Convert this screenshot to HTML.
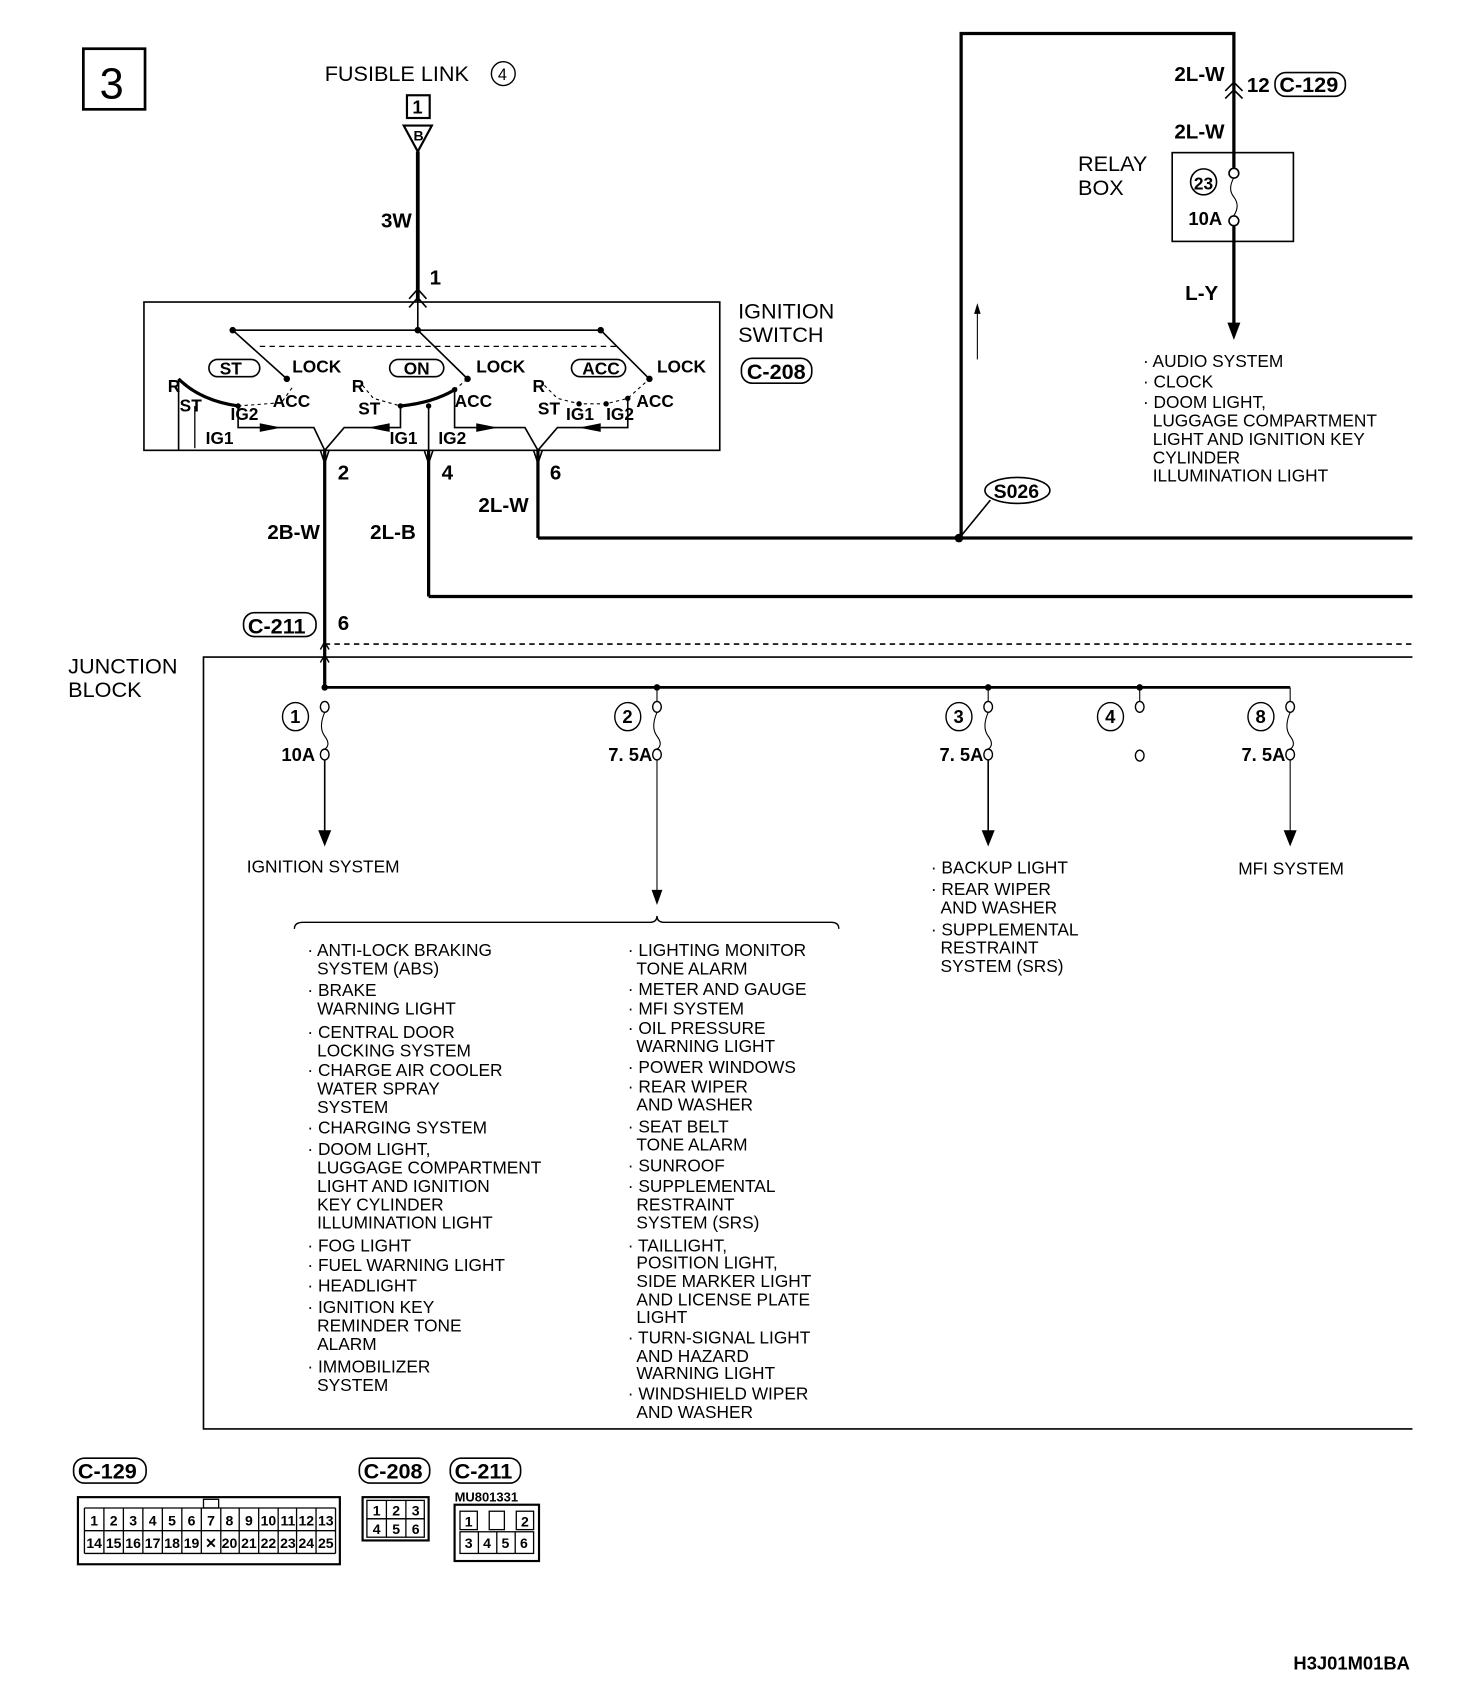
<!DOCTYPE html>
<html><head><meta charset="utf-8"><style>
html,body{margin:0;padding:0;background:#fff;}
svg{display:block;}
text{font-family:"Liberation Sans",sans-serif;fill:#000;}
.n{font-family:"Liberation Sans Narrow","Liberation Sans",sans-serif;font-weight:bold;font-size:19px;}
.t{font-size:16px;}
.h{font-size:20px;}
</style></head><body>
<svg width="1472" height="1692" viewBox="0 0 1360 1563" preserveAspectRatio="none" xmlns="http://www.w3.org/2000/svg">
<g fill="none" stroke="#000">
<rect x="77" y="45" width="57" height="56" stroke-width="2.5"/>
<rect x="376" y="88" width="21" height="21" stroke-width="2"/>
<path d="M373 116 L399 116 L386 140 Z" stroke-width="2"/>
<line x1="386" y1="140" x2="386" y2="278" stroke-width="3.5"/>
<path d="M378 276 L386 267 L394 276 M378 284 L386 275 L394 284" stroke-width="1.5"/>
<rect x="133" y="279" width="532" height="137" stroke-width="1.5"/>
<line x1="386" y1="278" x2="386" y2="305" stroke-width="1.5"/>
<line x1="215" y1="305" x2="555" y2="305" stroke-width="1.5"/>
<line x1="240" y1="320" x2="572" y2="320" stroke-width="1.2" stroke-dasharray="5,4"/>
<line x1="215" y1="305" x2="265" y2="350" stroke-width="1.5"/>
<line x1="386" y1="305" x2="432" y2="350" stroke-width="1.5"/>
<line x1="555" y1="305" x2="600" y2="350" stroke-width="1.5"/>
<rect x="193" y="332" width="47" height="16" rx="8" stroke-width="1.5"/>
<rect x="360" y="332" width="50" height="16" rx="8" stroke-width="1.5"/>
<rect x="528" y="332" width="50" height="16" rx="8" stroke-width="1.5"/>
<path d="M165 350 Q185 370 220 375" stroke-width="3"/>
<path d="M220 375 L260 372 L270 358" stroke-width="1" stroke-dasharray="3,3"/>
<path d="M335 356 L345 368 L370 375" stroke-width="1" stroke-dasharray="3,3"/>
<path d="M370 375 Q400 372 420 360" stroke-width="3"/>
<path d="M420 360 L432 350" stroke-width="1" stroke-dasharray="3,3"/>
<path d="M503 356 L515 368 L535 373 L560 373 L580 368 L600 350" stroke-width="1" stroke-dasharray="3,3"/>
<line x1="165" y1="350" x2="165" y2="416" stroke-width="1.5"/>
<line x1="180" y1="375" x2="180" y2="414" stroke-width="1.2"/>
<path d="M220 375 L220 395 L290 395 L300 416 M370 375 L370 395 L318 395 L300 416" stroke-width="1.5"/>
<path d="M420 360 L420 395 L485 395 L497 416 M580 368 L580 395 L515 395 L497 416" stroke-width="1.5"/>
<line x1="396" y1="375" x2="396" y2="416" stroke-width="1.5"/>
<path d="M296 416 L300 428 L304 416 M392 416 L396 428 L400 416 M493 416 L497 428 L501 416" stroke-width="1.5"/>
<line x1="300" y1="416" x2="300" y2="635" stroke-width="3"/>
<line x1="396" y1="416" x2="396" y2="551" stroke-width="3"/>
<line x1="396" y1="551" x2="1305" y2="551" stroke-width="3"/>
<line x1="497" y1="416" x2="497" y2="497" stroke-width="3"/>
<line x1="497" y1="497" x2="1305" y2="497" stroke-width="3"/>
<path d="M888 497 L888 31 L1140 31 L1140 155" stroke-width="3"/>
<line x1="1140" y1="209" x2="1140" y2="300" stroke-width="3"/>
<path d="M1132 84 L1140 76 L1148 84 M1132 91 L1140 83 L1148 91" stroke-width="1.5"/>
<line x1="903" y1="282" x2="903" y2="332" stroke-width="1"/>
<rect x="1083" y="141" width="112" height="82" stroke-width="1.5"/>
<circle cx="1112" cy="168" r="12" stroke-width="1.5"/>
<path d="M1140 164 Q1134 175 1140 182 Q1146 190 1140 199" stroke-width="1"/>
<circle cx="1140" cy="160" r="4.5" fill="#fff" stroke-width="1.5"/>
<circle cx="1140" cy="204" r="4.5" fill="#fff" stroke-width="1.5"/>
<rect x="1178" y="67" width="65" height="22" rx="10" stroke-width="1.5"/>
<ellipse cx="940" cy="453" rx="30" ry="12" stroke-width="1.5"/>
<line x1="915" y1="462" x2="888" y2="495" stroke-width="1.5"/>
<rect x="225" y="566" width="67" height="22" rx="10" stroke-width="1.5"/>
<line x1="300" y1="595" x2="1305" y2="595" stroke-width="1.5" stroke-dasharray="5,4"/>
<path d="M296 600 L300 593 L304 600 M296 612 L300 605 L304 612" stroke-width="1.3"/>
<path d="M1305 607 L188 607 L188 1320 L1305 1320" stroke-width="1.5"/>
<line x1="300" y1="635" x2="1192" y2="635" stroke-width="2.5"/>
<line x1="1192" y1="635" x2="1192" y2="648" stroke-width="1"/>
<line x1="607" y1="635" x2="607" y2="648" stroke-width="1"/>
<line x1="913" y1="635" x2="913" y2="648" stroke-width="1"/>
<line x1="1053" y1="635" x2="1053" y2="648" stroke-width="1"/>
<g stroke-width="1">
<path d="M300 658 Q294 672 300 680 Q306 688 300 692"/>
<path d="M607 658 Q601 672 607 680 Q613 688 607 692"/>
<path d="M913 658 Q907 672 913 680 Q919 688 913 692"/>
<path d="M1192 658 Q1186 672 1192 680 Q1198 688 1192 692"/>
</g>
<g stroke-width="1.3">
<ellipse cx="300" cy="653" rx="4" ry="5"/><ellipse cx="300" cy="697" rx="4" ry="5"/>
<ellipse cx="607" cy="653" rx="4" ry="5"/><ellipse cx="607" cy="697" rx="4" ry="5"/>
<ellipse cx="913" cy="653" rx="4" ry="5"/><ellipse cx="913" cy="697" rx="4" ry="5"/>
<ellipse cx="1053" cy="653" rx="4" ry="5"/><ellipse cx="1053" cy="698" rx="4" ry="5"/>
<ellipse cx="1192" cy="653" rx="4" ry="5"/><ellipse cx="1192" cy="697" rx="4" ry="5"/>
<ellipse cx="273" cy="662" rx="12" ry="13"/><ellipse cx="580" cy="662" rx="12" ry="13"/>
<ellipse cx="886" cy="662" rx="12" ry="13"/><ellipse cx="1026" cy="662" rx="12" ry="13"/>
<ellipse cx="1165" cy="662" rx="12" ry="13"/>
</g>
<line x1="300" y1="702" x2="300" y2="770" stroke-width="1.5"/>
<line x1="607" y1="702" x2="607" y2="825" stroke-width="1"/>
<line x1="913" y1="702" x2="913" y2="770" stroke-width="1.5"/>
<line x1="1192" y1="702" x2="1192" y2="770" stroke-width="1"/>
<path d="M272 858 Q272 852 280 852 L600 852 Q607 852 607 846 Q607 852 614 852 L768 852 Q775 852 775 858" stroke-width="1.3"/>
<rect x="68" y="1347" width="67" height="23" rx="10" stroke-width="1.5"/>
<rect x="332" y="1347" width="65" height="23" rx="10" stroke-width="1.5"/>
<rect x="416" y="1347" width="65" height="23" rx="10" stroke-width="1.5"/>
<rect x="72" y="1383" width="242" height="62" stroke-width="2"/>
<rect x="335" y="1383" width="61" height="40" stroke-width="2"/>
<rect x="420" y="1390" width="78" height="52" stroke-width="2"/>
</g>
<g fill="#000">
<circle cx="215" cy="305" r="3"/><circle cx="386" cy="305" r="3"/><circle cx="555" cy="305" r="3"/>
<circle cx="265" cy="350" r="3"/><circle cx="432" cy="350" r="3"/><circle cx="600" cy="350" r="3"/>
<circle cx="220" cy="375" r="2.5"/><circle cx="370" cy="375" r="2.5"/><circle cx="396" cy="375" r="2.5"/>
<circle cx="420" cy="360" r="2.5"/><circle cx="580" cy="368" r="2.5"/><circle cx="535" cy="373" r="2.5"/><circle cx="560" cy="373" r="2.5"/>
<circle cx="886" cy="497" r="4"/>
<circle cx="300" cy="635" r="3"/><circle cx="607" cy="635" r="3"/><circle cx="913" cy="635" r="3"/><circle cx="1053" cy="635" r="3"/>
<path d="M240 391 L260 395 L240 399 Z"/><path d="M360 391 L340 395 L360 399 Z"/>
<path d="M440 391 L460 395 L440 399 Z"/><path d="M555 391 L535 395 L555 399 Z"/>
<path d="M1134 298 L1146 298 L1140 314 Z"/>
<path d="M294 767 L306 767 L300 782 Z"/>
<path d="M602 822 L612 822 L607 836 Z"/>
<path d="M907 767 L919 767 L913 782 Z"/>
<path d="M1186 767 L1198 767 L1192 782 Z"/>
<path d="M900 290 L903 280 L906 290 Z"/>
</g>
<text x="92" y="91" style="font-size:40px">3</text>
<text x="300" y="75" class="h">FUSIBLE LINK</text>
<circle cx="465" cy="68" r="11" fill="none" stroke="#000" stroke-width="1.3"/>
<text x="460" y="74" style="font-size:15px">4</text>
<text x="381" y="105" class="n" style="font-size:17px">1</text>
<text x="382" y="130" class="n" style="font-size:13px">B</text>
<text x="352" y="210" class="n">3W</text>
<text x="397" y="263" class="n">1</text>
<text x="682" y="294" class="h">IGNITION</text>
<text x="682" y="316" class="h">SWITCH</text>
<rect x="685" y="331" width="65" height="23" rx="10" fill="none" stroke="#000" stroke-width="1.5"/>
<text x="690" y="350" class="n" style="font-size:20px">C-208</text>
<g class="n" style="font-size:16px">
<text x="203" y="346">ST</text><text x="373" y="346">ON</text><text x="538" y="346">ACC</text>
<text x="270" y="344">LOCK</text><text x="440" y="344">LOCK</text><text x="607" y="344">LOCK</text>
<text x="155" y="362">R</text><text x="166" y="380">ST</text><text x="213" y="388">IG2</text><text x="252" y="376">ACC</text><text x="190" y="410">IG1</text>
<text x="325" y="362">R</text><text x="331" y="383">ST</text><text x="420" y="376">ACC</text><text x="360" y="410">IG1</text><text x="405" y="410">IG2</text>
<text x="492" y="362">R</text><text x="497" y="383">ST</text><text x="523" y="388">IG1</text><text x="560" y="388">IG2</text><text x="588" y="376">ACC</text>
</g>
<text x="312" y="443" class="n">2</text><text x="408" y="443" class="n">4</text><text x="508" y="443" class="n">6</text>
<text x="442" y="473" class="n">2L-W</text>
<text x="247" y="498" class="n">2B-W</text><text x="342" y="498" class="n">2L-B</text>
<text x="229" y="585" class="n" style="font-size:20px">C-211</text>
<text x="312" y="582" class="n">6</text>
<text x="63" y="622" class="h">JUNCTION</text><text x="63" y="644" class="h">BLOCK</text>
<text x="1085" y="75" class="n">2L-W</text>
<text x="1152" y="85" class="n">12</text>
<text x="1182" y="85" class="n" style="font-size:20px">C-129</text>
<text x="1085" y="128" class="n">2L-W</text>
<text x="996" y="158" class="h">RELAY</text><text x="996" y="180" class="h">BOX</text>
<text x="1103" y="175" class="n" style="font-size:16px">23</text>
<text x="1098" y="208" class="n" style="font-size:17px">10A</text>
<text x="1095" y="277" class="n">L-Y</text>
<g class="t">
<text x="1056" y="339">· AUDIO SYSTEM</text>
<text x="1056" y="358">· CLOCK</text>
<text x="1056" y="377">· DOOM LIGHT,</text>
<text x="1065" y="394">LUGGAGE COMPARTMENT</text>
<text x="1065" y="411">LIGHT AND IGNITION KEY</text>
<text x="1065" y="428">CYLINDER</text>
<text x="1065" y="445">ILLUMINATION LIGHT</text>
</g>
<text x="918" y="460" class="n" style="font-size:18px">S026</text>
<g class="n" style="font-size:17px">
<text x="268" y="668">1</text><text x="575" y="668">2</text><text x="881" y="668">3</text><text x="1021" y="668">4</text><text x="1160" y="668">8</text>
<text x="260" y="703">10A</text><text x="562" y="703">7. 5A</text><text x="868" y="703">7. 5A</text><text x="1147" y="703">7. 5A</text>
</g>
<g class="t">
<text x="228" y="806">IGNITION SYSTEM</text>
<text x="1144" y="808">MFI SYSTEM</text>
<text x="860" y="807">· BACKUP LIGHT</text>
<text x="860" y="827">· REAR WIPER</text><text x="869" y="844">AND WASHER</text>
<text x="860" y="864">· SUPPLEMENTAL</text><text x="869" y="881">RESTRAINT</text><text x="869" y="898">SYSTEM (SRS)</text>
<text x="284" y="883">· ANTI-LOCK BRAKING</text><text x="293" y="900">SYSTEM (ABS)</text>
<text x="284" y="920">· BRAKE</text><text x="293" y="937">WARNING LIGHT</text>
<text x="284" y="959">· CENTRAL DOOR</text><text x="293" y="976">LOCKING SYSTEM</text>
<text x="284" y="994">· CHARGE AIR COOLER</text><text x="293" y="1011">WATER SPRAY</text><text x="293" y="1028">SYSTEM</text>
<text x="284" y="1047">· CHARGING SYSTEM</text>
<text x="284" y="1067">· DOOM LIGHT,</text><text x="293" y="1084">LUGGAGE COMPARTMENT</text><text x="293" y="1101">LIGHT AND IGNITION</text><text x="293" y="1118">KEY CYLINDER</text><text x="293" y="1135">ILLUMINATION LIGHT</text>
<text x="284" y="1156">· FOG LIGHT</text>
<text x="284" y="1174">· FUEL WARNING LIGHT</text>
<text x="284" y="1193">· HEADLIGHT</text>
<text x="284" y="1213">· IGNITION KEY</text><text x="293" y="1230">REMINDER TONE</text><text x="293" y="1247">ALARM</text>
<text x="284" y="1268">· IMMOBILIZER</text><text x="293" y="1285">SYSTEM</text>
<text x="580" y="883">· LIGHTING MONITOR</text><text x="588" y="900">TONE ALARM</text>
<text x="580" y="919">· METER AND GAUGE</text>
<text x="580" y="937">· MFI SYSTEM</text>
<text x="580" y="955">· OIL PRESSURE</text><text x="588" y="972">WARNING LIGHT</text>
<text x="580" y="991">· POWER WINDOWS</text>
<text x="580" y="1009">· REAR WIPER</text><text x="588" y="1026">AND WASHER</text>
<text x="580" y="1046">· SEAT BELT</text><text x="588" y="1063">TONE ALARM</text>
<text x="580" y="1082">· SUNROOF</text>
<text x="580" y="1101">· SUPPLEMENTAL</text><text x="588" y="1118">RESTRAINT</text><text x="588" y="1135">SYSTEM (SRS)</text>
<text x="580" y="1156">· TAILLIGHT,</text><text x="588" y="1172">POSITION LIGHT,</text><text x="588" y="1189">SIDE MARKER LIGHT</text><text x="588" y="1206">AND LICENSE PLATE</text><text x="588" y="1222">LIGHT</text>
<text x="580" y="1241">· TURN-SIGNAL LIGHT</text><text x="588" y="1258">AND HAZARD</text><text x="588" y="1274">WARNING LIGHT</text>
<text x="580" y="1293">· WINDSHIELD WIPER</text><text x="588" y="1310">AND WASHER</text>
</g>
<g class="n" style="font-size:20px">
<text x="72" y="1366">C-129</text><text x="336" y="1366">C-208</text><text x="420" y="1366">C-211</text>
</g>
<text x="420" y="1387" class="n" style="font-size:12px">MU801331</text>
<g fill="none" stroke="#000" stroke-width="1.2">
<rect x="339" y="1386" width="53" height="17"/><rect x="339" y="1403" width="53" height="17"/>
<line x1="357" y1="1386" x2="357" y2="1420"/><line x1="375" y1="1386" x2="375" y2="1420"/>
<rect x="425" y="1396" width="16" height="17"/><rect x="477" y="1396" width="16" height="17"/><rect x="452" y="1396" width="14" height="17"/>
<rect x="425" y="1415" width="68" height="20"/>
<line x1="442" y1="1415" x2="442" y2="1435"/><line x1="459" y1="1415" x2="459" y2="1435"/><line x1="476" y1="1415" x2="476" y2="1435"/>
<path d="M78 1393 L310 1393 M78 1414 L310 1414 M78 1435 L310 1435 M78 1393 L78 1435 M310 1393 L310 1435"/>
<path d="M96 1393V1435M114 1393V1435M132 1393V1435M150 1393V1435M168 1393V1435M186 1393V1435M204 1393V1435M221 1393V1435M239 1393V1435M257 1393V1435M274 1393V1435M292 1393V1435"/>
<rect x="188" y="1385" width="14" height="8"/>
</g>
<g class="n" style="font-size:13px" text-anchor="middle">
<text x="87" y="1409">1</text><text x="105" y="1409">2</text><text x="123" y="1409">3</text><text x="141" y="1409">4</text><text x="159" y="1409">5</text><text x="177" y="1409">6</text><text x="195" y="1409">7</text><text x="212" y="1409">8</text><text x="230" y="1409">9</text><text x="248" y="1409">10</text><text x="266" y="1409">11</text><text x="283" y="1409">12</text><text x="301" y="1409">13</text>
<text x="87" y="1430">14</text><text x="105" y="1430">15</text><text x="123" y="1430">16</text><text x="141" y="1430">17</text><text x="159" y="1430">18</text><text x="177" y="1430">19</text><text x="195" y="1430">✕</text><text x="212" y="1430">20</text><text x="230" y="1430">21</text><text x="248" y="1430">22</text><text x="266" y="1430">23</text><text x="283" y="1430">24</text><text x="301" y="1430">25</text>
<text x="348" y="1400">1</text><text x="366" y="1400">2</text><text x="384" y="1400">3</text>
<text x="348" y="1417">4</text><text x="366" y="1417">5</text><text x="384" y="1417">6</text>
<text x="433" y="1410">1</text><text x="485" y="1410">2</text>
<text x="433" y="1430">3</text><text x="450" y="1430">4</text><text x="467" y="1430">5</text><text x="484" y="1430">6</text>
</g>
<text x="1195" y="1542" class="n" style="font-size:17px">H3J01M01BA</text>
</svg>
</body></html>
